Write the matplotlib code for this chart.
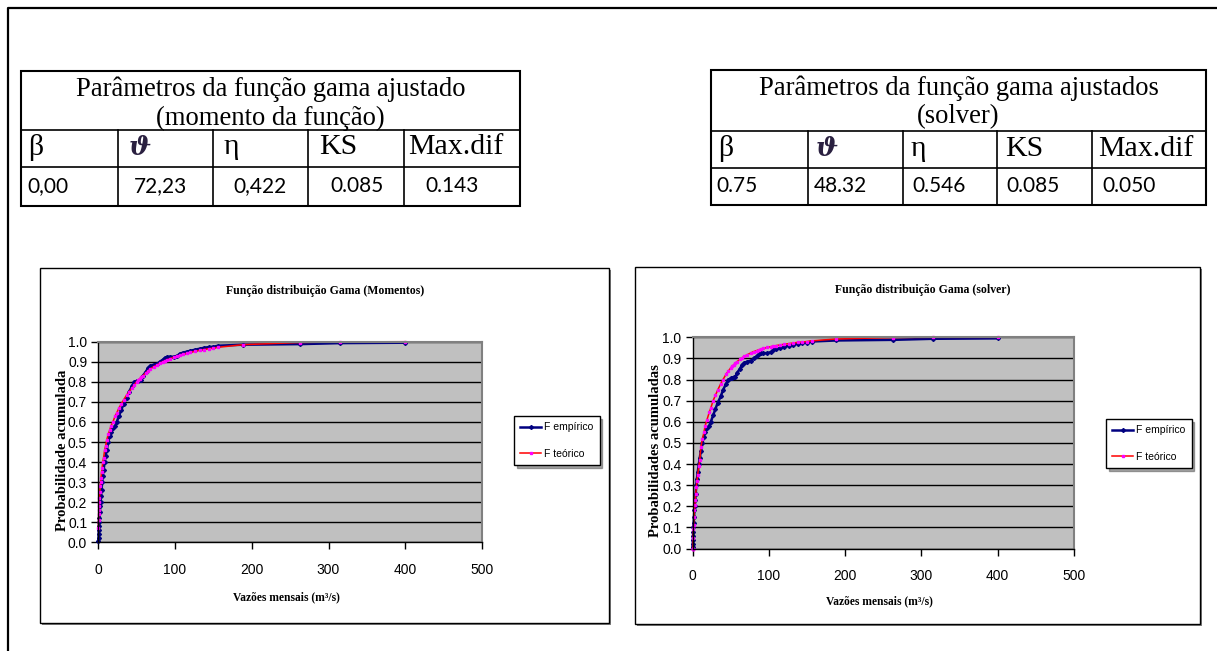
import matplotlib
matplotlib.use("Agg")
import matplotlib.pyplot as plt
from matplotlib.patches import Rectangle
from matplotlib import font_manager

W, H = 1217, 651

# --- dados ---
vazoes = [0.1, 0.3, 0.5, 0.7, 0.9, 1.2, 1.5, 2.0, 2.5, 3.0,
          3.5, 4.2, 5.0, 5.8, 6.8, 8.3, 9.5, 11, 13, 15,
          16.5, 19, 22, 24, 27, 30, 33, 37, 40, 44,
          47, 50, 52, 54, 56, 58, 62, 65, 68, 72,
          77, 80, 84, 87, 90, 93, 98, 103, 106, 110,
          115, 120, 126, 132, 138, 144, 150, 156, 188, 263,
          315, 400]
f_empirico = [0.005, 0.02, 0.04, 0.06, 0.08, 0.10, 0.12, 0.15, 0.18, 0.20,
              0.23, 0.26, 0.30, 0.33, 0.36, 0.40, 0.43, 0.46, 0.50, 0.53,
              0.55, 0.57, 0.58, 0.60, 0.63, 0.66, 0.69, 0.72, 0.75, 0.78,
              0.80, 0.805, 0.805, 0.81, 0.81, 0.83, 0.85, 0.87, 0.88, 0.885,
              0.89, 0.90, 0.91, 0.92, 0.925, 0.925, 0.925, 0.93, 0.94, 0.945,
              0.95, 0.955, 0.96, 0.965, 0.97, 0.973, 0.975, 0.98, 0.985, 0.988,
              0.993, 0.995]
f_teorico_momentos = [0.07, 0.11, 0.14, 0.16, 0.18, 0.20, 0.22, 0.25, 0.28, 0.30,
                      0.32, 0.35, 0.37, 0.40, 0.42, 0.46, 0.48, 0.51, 0.54, 0.56,
                      0.58, 0.60, 0.63, 0.645, 0.67, 0.69, 0.71, 0.735, 0.75, 0.77,
                      0.785, 0.80, 0.81, 0.815, 0.825, 0.83, 0.845, 0.855, 0.865, 0.875,
                      0.885, 0.893, 0.90, 0.905, 0.91, 0.915, 0.922, 0.928, 0.932, 0.937,
                      0.942, 0.947, 0.952, 0.957, 0.961, 0.965, 0.968, 0.972, 0.985, 0.996,
                      0.999, 1.0]
f_teorico_solver = [0.0, 0.0, 0.0, 0.0, 0.05, 0.09, 0.11, 0.15, 0.18, 0.205,
                    0.23, 0.26, 0.29, 0.32, 0.35, 0.39, 0.42, 0.48, 0.52, 0.55,
                    0.58, 0.61, 0.645, 0.665, 0.70, 0.725, 0.75, 0.78, 0.80, 0.825,
                    0.84, 0.855, 0.863, 0.87, 0.877, 0.884, 0.895, 0.903, 0.91, 0.918,
                    0.927, 0.932, 0.937, 0.941, 0.944, 0.947, 0.952, 0.956, 0.958, 0.961,
                    0.964, 0.967, 0.97, 0.973, 0.976, 0.978, 0.98, 0.983, 0.992, 0.999,
                    1.0, 1.0]

x_ticks = [0, 100, 200, 300, 400, 500]
y_ticks = [0.0, 0.1, 0.2, 0.3, 0.4, 0.5, 0.6, 0.7, 0.8, 0.9, 1.0]

titulos = ["Função distribuição Gama (Momentos)", "Função distribuição Gama (solver)"]
ylabels = ["Probabilidade acumulada", "Probabilidades acumuladas"]
xlabel = "Vazões mensais (m³/s)"
legend_labels = ["F empírico", "F teórico"]

tab_titulos = [("Parâmetros da função gama ajustado", "(momento da função)"),
               ("Parâmetros da função gama ajustados", "(solver)")]
tab_cabecalho = ["β", "ϑ", "η", "KS", "Max.dif"]
tab_valores = [["0,00", "72,23", "0,422", "0.085", "0.143"],
               ["0.75", "48.32", "0.546", "0.085", "0.050"]]

names = {f.name for f in font_manager.fontManager.ttflist}
NARROW = "Liberation Sans Narrow" if "Liberation Sans Narrow" in names else "Liberation Sans"
SERIF = ["Liberation Serif", "DejaVu Serif"]

fig = plt.figure(figsize=(W / 100, H / 100), dpi=100)
bg = fig.add_axes([0, 0, 1, 1], zorder=0)
bg.set_xlim(0, W)
bg.set_ylim(H, 0)
bg.axis("off")

# outer frame
bg.plot([8, 8, W + 5], [H + 5, 8, 8], color="black", lw=1.6, clip_on=False)


def draw_table(cols, rows, titles, header, values, hx, vx):
    top, r1, r2, bot = rows
    bg.add_patch(Rectangle((cols[0], top), cols[-1] - cols[0], bot - top,
                           fill=False, ec="black", lw=1.5))
    for y in (r1, r2):
        bg.plot([cols[0], cols[-1]], [y, y], color="black", lw=1.2)
    for x in cols[1:-1]:
        bg.plot([x, x], [r1, bot], color="black", lw=1.2)
    cx = (cols[0] + cols[-1]) / 2
    bg.text(cx, top + 18, titles[0], ha="center", va="center", family=SERIF, size=19.2)
    bg.text(cx, top + 47, titles[1], ha="center", va="center", family=SERIF, size=19.2)
    for i, (h, v) in enumerate(zip(header, values)):
        if h == "ϑ":
            bg.text(hx[i], (r1 + r2) / 2 - 1, h, ha="left", va="center",
                    family=["DejaVu Serif"], style="italic", weight="bold",
                    size=19, color="#2a2040")
        else:
            bg.text(hx[i], (r1 + r2) / 2 - 1, h, ha="left", va="center",
                    family=SERIF, size=21.5)
        bg.text(vx[i], (r2 + bot) / 2, v, ha="left", va="center",
                family=["Lato", "DejaVu Sans"], size=15)


draw_table([21, 118, 213, 308, 404, 520], [71, 130, 167, 206],
           tab_titulos[0], tab_cabecalho, tab_valores[0],
           [28, 129, 224, 319, 408], [27, 134, 233, 330, 425])
draw_table([711, 808, 903, 997, 1092, 1206], [70, 131, 168, 205],
           tab_titulos[1], tab_cabecalho, tab_valores[1],
           [718, 816, 911, 1005, 1098], [716, 814, 912, 1006, 1102])

# chart boxes and plot areas (pixel coords)
charts = [
    dict(box=(40, 268, 609, 623), plot=(98.3, 341.7, 482.0, 542.3), title_xy=(325, 291),
         xlab_y=591, ylab_x=69, ylab_y=450, leg=(514, 416), teo=f_teorico_momentos),
    dict(box=(635, 267, 1200, 624), plot=(692.5, 337.3, 1074.0, 548.5), title_xy=(923, 290),
         xlab_y=595, ylab_x=662, ylab_y=451, leg=(1106, 419), teo=f_teorico_solver),
]

for i, c in enumerate(charts):
    x0, y0, x1, y1 = c["box"]
    bg.add_patch(Rectangle((x0 + 2, y0 + 2), x1 - x0, y1 - y0, fc="#808080", ec="none"))
    bg.add_patch(Rectangle((x0, y0), x1 - x0, y1 - y0, fc="white", ec="black", lw=1))
    bg.text(*c["title_xy"], titulos[i], ha="center", va="center", family=SERIF,
            weight="bold", size=8.5)

    px0, py0, px1, py1 = c["plot"]
    ax = fig.add_axes([px0 / W, 1 - py1 / H, (px1 - px0) / W, (py1 - py0) / H], zorder=2)
    ax.set_facecolor("#C0C0C0")
    ax.plot(vazoes, f_empirico, color="#000080", lw=1.8, marker="D", ms=2.0,
            mfc="#000080", mec="#000080", clip_on=False, label=legend_labels[0])
    ax.plot(vazoes, c["teo"], color="#FF0000", lw=1.1, marker="s", ms=1.6,
            mfc="#FF00FF", mec="#FF00FF", clip_on=False, label=legend_labels[1])
    ax.set_xlim(0, 500)
    ax.set_ylim(0, 1)
    ax.set_xticks(x_ticks)
    ax.set_yticks(y_ticks)
    ax.set_yticklabels([f"{v:.1f}" for v in y_ticks])
    ax.yaxis.grid(True, color="black", lw=1)
    ax.set_axisbelow(True)
    for s in ("top", "right"):
        ax.spines[s].set_color("#808080")
        ax.spines[s].set_linewidth(1.5)
    for s in ("left", "bottom"):
        ax.spines[s].set_color("black")
        ax.spines[s].set_linewidth(1)
    ax.tick_params(direction="out", length=5, width=1, color="black", pad=3)
    ax.tick_params(axis="x", pad=10)
    for lab in ax.get_xticklabels() + ax.get_yticklabels():
        lab.set_fontfamily(NARROW)
        lab.set_fontsize(10)

    ax.set_xlabel(xlabel, family=SERIF, weight="bold", size=8.3)
    ax.xaxis.set_label_coords(0.5 - 0.01, (py1 - c["xlab_y"]) / (py1 - py0))
    ax.set_ylabel(ylabels[i], family=SERIF, weight="bold", size=10.5)
    ax.yaxis.set_label_coords((c["ylab_x"] - px0) / (px1 - px0),
                              (py1 - c["ylab_y"]) / (py1 - py0))

    lx, ly = c["leg"]
    leg = ax.legend(loc="upper left", bbox_to_anchor=(lx / W, 1 - ly / H),
                    bbox_transform=fig.transFigure, frameon=True, fancybox=False,
                    shadow=True, edgecolor="black", framealpha=1,
                    prop={"family": NARROW, "size": 7.5}, handlelength=2.0,
                    handletextpad=0.3, borderpad=0.6, labelspacing=1.6,
                    borderaxespad=0)
    leg.get_frame().set_linewidth(1)

fig.savefig("out.png", dpi=100)
